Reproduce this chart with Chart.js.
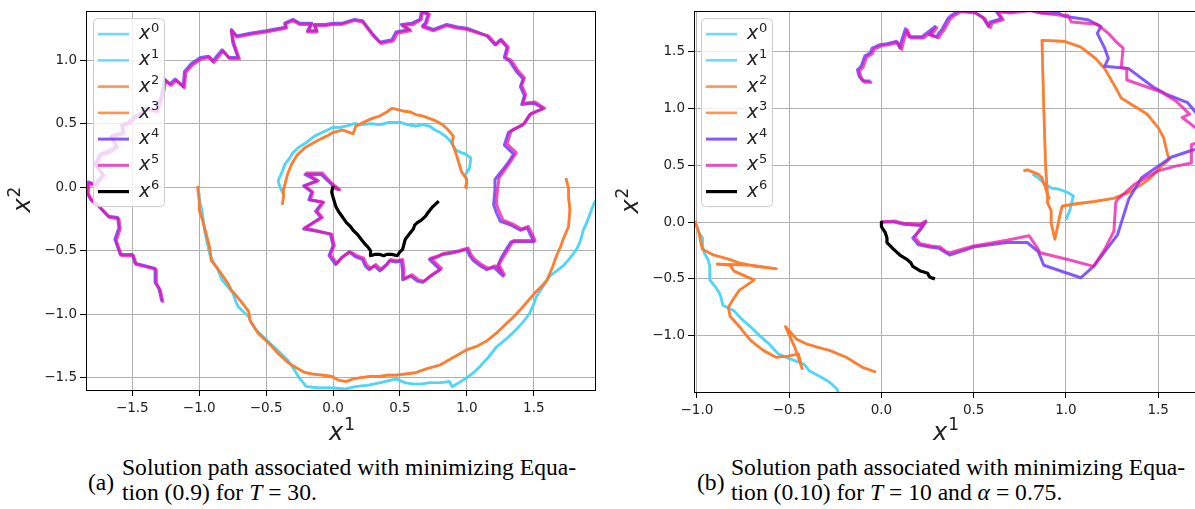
<!DOCTYPE html>
<html>
<head>
<meta charset="utf-8">
<script src="https://cdn.jsdelivr.net/npm/chart.js@4.4.1/dist/chart.umd.min.js"></script>
<style>
html, body { margin: 0; padding: 0; background: #fff; overflow: hidden; width: 1195px; height: 509px; }
canvas { position: absolute; top: 0; }
#left { left: 0; }
#right { left: 600px; }
.cap { position: absolute; font-family: "Liberation Serif", "Times New Roman", serif; font-size: 23.6px; line-height: 25px; color: #000; white-space: nowrap; }
</style>
</head>
<body>
<canvas id="left" width="600" height="445"></canvas>
<canvas id="right" width="600" height="445"></canvas>
<div class="cap" style="left:88px;top:470px">(a)</div>
<div class="cap" style="left:122px;top:455px">Solution path associated with minimizing Equa-<br>tion (0.9) for <i>T</i> = 30.</div>
<div class="cap" style="left:697px;top:470px">(b)</div>
<div class="cap" style="left:731px;top:455px">Solution path associated with minimizing Equa-<br>tion (0.10) for <i>T</i> = 10 and <i>α</i> = 0.75.</div>
<script>
// tick values
const leftTicksX = [-1.5, -1.0, -0.5, 0.0, 0.5, 1.0, 1.5];
const leftTicksY = [-1.5, -1.0, -0.5, 0.0, 0.5, 1.0];
const rightTicksX = [-1.0, -0.5, 0.0, 0.5, 1.0, 1.5];
const rightTicksY = [-1.0, -0.5, 0.0, 0.5, 1.0, 1.5];

// legend: x^k
const seriesSup = ['0', '1', '2', '3', '4', '5', '6'];
const seriesColors = ['rgba(70,212,250,0.8)', 'rgba(70,212,250,0.8)', 'rgba(255,120,40,0.8)', 'rgba(255,120,40,0.8)',
  'rgba(110,60,250,0.85)', 'rgba(235,20,170,0.75)', '#000000'];
const seriesWidths = [2.6, 2.6, 2.6, 2.6, 3, 3, 3.2];

// ---- panel (a) ----
const leftCyan = [[-0.37,-0.06],[-0.40,0.01],[-0.41,0.05],[-0.38,0.12],[-0.36,0.18],[-0.33,0.22],[-0.30,0.27],[-0.26,0.31],
  [-0.20,0.35],[-0.14,0.40],[-0.08,0.43],[0.00,0.47],[0.05,0.47],[0.10,0.48],[0.16,0.50],[0.22,0.49],[0.28,0.50],[0.35,0.49],
  [0.42,0.51],[0.50,0.51],[0.56,0.49],[0.62,0.48],[0.67,0.49],[0.72,0.48],[0.76,0.45],[0.80,0.43],[0.84,0.40],[0.87,0.37],
  [0.90,0.32],[0.92,0.29],[0.96,0.27],[0.99,0.26],[1.03,0.23],[1.02,0.15],[0.99,0.10],[1.00,0.04],[1.00,-0.01],
  null,
  [-1.00,-0.05],[-1.00,-0.10],[-0.98,-0.18],[-0.97,-0.26],[-0.96,-0.34],[-0.94,-0.44],[-0.92,-0.53],[-0.89,-0.60],[-0.86,-0.65],
  [-0.83,-0.73],[-0.79,-0.78],[-0.75,-0.83],[-0.73,-0.89],[-0.71,-0.94],[-0.67,-0.98],[-0.63,-1.02],[-0.61,-1.07],[-0.58,-1.12],
  [-0.54,-1.16],[-0.50,-1.20],[-0.46,-1.24],[-0.42,-1.28],[-0.38,-1.32],[-0.34,-1.36],[-0.30,-1.42],[-0.26,-1.49],[-0.23,-1.53],
  [-0.20,-1.57],[-0.11,-1.58],[0.00,-1.58],[0.09,-1.59],[0.17,-1.57],[0.26,-1.56],[0.35,-1.54],[0.47,-1.51],[0.54,-1.54],
  [0.60,-1.55],[0.66,-1.55],[0.72,-1.54],[0.80,-1.54],[0.87,-1.53],[0.89,-1.57],[0.94,-1.54],[1.00,-1.50],[1.05,-1.46],
  [1.10,-1.41],[1.16,-1.34],[1.22,-1.26],[1.30,-1.19],[1.37,-1.12],[1.43,-1.05],[1.47,-0.99],[1.50,-0.92],[1.52,-0.86],
  [1.57,-0.78],[1.62,-0.70],[1.67,-0.66],[1.72,-0.62],[1.77,-0.56],[1.82,-0.49],[1.85,-0.42],[1.87,-0.34],[1.90,-0.27],
  [1.92,-0.21],[1.95,-0.13],[1.97,-0.09]];

const leftOrange = [[-0.38,-0.14],[-0.37,-0.08],[-0.37,-0.02],[-0.36,0.02],[-0.34,0.10],[-0.31,0.18],[-0.27,0.25],[-0.21,0.31],
  [-0.16,0.34],[-0.11,0.37],[-0.05,0.40],[0.00,0.43],[0.07,0.45],[0.15,0.42],[0.17,0.48],[0.23,0.51],[0.29,0.54],[0.35,0.56],
  [0.40,0.59],[0.44,0.62],[0.52,0.60],[0.58,0.59],[0.62,0.57],[0.67,0.56],[0.72,0.54],[0.77,0.52],[0.82,0.49],[0.86,0.45],
  [0.90,0.40],[0.89,0.35],[0.92,0.26],[0.94,0.19],[0.96,0.12],[1.00,0.06],[0.99,-0.01],
  null,
  [-1.01,0.00],[-1.01,-0.02],[-1.00,-0.10],[-1.00,-0.18],[-0.97,-0.28],[-0.95,-0.36],[-0.93,-0.44],[-0.92,-0.49],[-0.91,-0.58],
  [-0.87,-0.63],[-0.83,-0.69],[-0.79,-0.75],[-0.76,-0.81],[-0.72,-0.86],[-0.68,-0.91],[-0.63,-0.98],[-0.62,-1.05],[-0.59,-1.10],
  [-0.56,-1.15],[-0.51,-1.20],[-0.46,-1.25],[-0.41,-1.31],[-0.36,-1.36],[-0.31,-1.40],[-0.26,-1.43],[-0.21,-1.46],[-0.16,-1.47],
  [-0.08,-1.48],[-0.01,-1.49],[0.04,-1.52],[0.10,-1.53],[0.15,-1.51],[0.20,-1.50],[0.28,-1.49],[0.35,-1.49],[0.41,-1.48],
  [0.47,-1.48],[0.55,-1.47],[0.62,-1.46],[0.70,-1.43],[0.80,-1.40],[0.90,-1.34],[1.00,-1.28],[1.08,-1.25],[1.15,-1.21],
  [1.22,-1.15],[1.30,-1.07],[1.36,-1.01],[1.42,-0.94],[1.47,-0.88],[1.51,-0.83],[1.56,-0.78],[1.60,-0.73],[1.64,-0.63],
  [1.67,-0.54],[1.70,-0.47],[1.72,-0.41],[1.76,-0.31],[1.77,-0.18],[1.76,-0.08],[1.76,-0.01],[1.74,0.07]];

const leftPurple = [[0.00,0.00],[0.04,-0.02],[-0.02,0.03],[-0.09,0.10],[-0.21,0.10],[-0.12,0.05],[-0.22,0.01],[-0.16,-0.04],
  [-0.18,-0.10],[-0.08,-0.12],[-0.13,-0.19],[-0.09,-0.24],[-0.22,-0.33],[-0.11,-0.35],[-0.02,-0.37],[0.00,-0.46],[-0.03,-0.54],
  [0.02,-0.61],[0.06,-0.56],[0.12,-0.51],[0.17,-0.55],[0.22,-0.57],[0.24,-0.62],[0.27,-0.65],[0.31,-0.62],[0.35,-0.66],
  [0.40,-0.61],[0.42,-0.58],[0.47,-0.59],[0.51,-0.58],[0.52,-0.66],[0.52,-0.73],[0.58,-0.70],[0.63,-0.74],[0.67,-0.75],
  [0.73,-0.70],[0.80,-0.65],[0.76,-0.61],[0.72,-0.57],[0.78,-0.55],[0.82,-0.53],[0.88,-0.52],[0.93,-0.51],[1.00,-0.49],
  [1.02,-0.54],[1.05,-0.58],[1.10,-0.62],[1.15,-0.65],[1.20,-0.63],[1.27,-0.70],[1.23,-0.62],[1.26,-0.55],[1.30,-0.48],
  [1.33,-0.43],[1.50,-0.43],[1.45,-0.32],[1.40,-0.34],[1.33,-0.30],[1.25,-0.27],[1.22,-0.20],[1.20,-0.14],[1.21,-0.02],
  [1.21,0.06],[1.30,0.18],[1.35,0.26],[1.28,0.33],[1.31,0.43],[1.36,0.46],[1.42,0.49],[1.47,0.57],[1.57,0.62],[1.50,0.66],
  [1.41,0.65],[1.43,0.72],[1.40,0.79],[1.42,0.85],[1.37,0.91],[1.32,0.99],[1.28,1.02],[1.30,1.10],[1.25,1.16],[1.21,1.12],
  [1.15,1.19],[1.08,1.22],[1.00,1.25],[0.93,1.26],[0.85,1.28],[0.75,1.24],[0.67,1.27],[0.69,1.29],[0.71,1.36],[0.66,1.38],
  [0.65,1.32],[0.59,1.29],[0.51,1.28],[0.57,1.24],[0.47,1.22],[0.44,1.16],[0.35,1.14],[0.30,1.20],[0.22,1.31],[0.16,1.32],
  [0.07,1.29],[0.00,1.29],[-0.06,1.28],[-0.14,1.28],[-0.12,1.23],[-0.19,1.23],[-0.16,1.29],[-0.25,1.29],[-0.30,1.32],
  [-0.36,1.29],[-0.35,1.26],[-0.50,1.23],[-0.62,1.21],[-0.72,1.19],[-0.76,1.24],[-0.75,1.14],[-0.71,1.02],[-0.78,1.02],
  [-0.83,1.08],[-0.90,0.99],[-0.93,1.03],[-0.99,1.02],[-1.06,0.97],[-1.11,0.91],[-1.12,0.79],[-1.18,0.85],[-1.22,0.81],
  [-1.26,0.85],[-1.28,0.73],[-1.32,0.60],[-1.40,0.62],[-1.45,0.57],[-1.48,0.56],[-1.53,0.51],[-1.58,0.49],[-1.57,0.43],
  [-1.66,0.40],[-1.62,0.32],[-1.68,0.28],[-1.74,0.26],[-1.78,0.18],[-1.72,0.10],[-1.78,0.02],[-1.83,0.04],[-1.84,-0.04],
  [-1.81,-0.10],[-1.76,-0.14],[-1.68,-0.23],[-1.61,-0.24],[-1.60,-0.32],[-1.63,-0.41],[-1.59,-0.53],[-1.50,-0.53],
  [-1.48,-0.60],[-1.40,-0.62],[-1.33,-0.64],[-1.33,-0.75],[-1.30,-0.80],[-1.28,-0.90]];

const leftPink = [[0.00,0.00],[0.05,-0.02],[-0.01,0.03],[-0.08,0.11],[-0.20,0.11],[-0.11,0.05],[-0.21,0.01],[-0.15,-0.04],
  [-0.17,-0.10],[-0.07,-0.12],[-0.12,-0.19],[-0.08,-0.24],[-0.21,-0.32],[-0.10,-0.35],[-0.01,-0.37],[0.01,-0.46],[-0.02,-0.53],
  [0.03,-0.60],[0.07,-0.55],[0.13,-0.51],[0.18,-0.54],[0.23,-0.56],[0.25,-0.61],[0.28,-0.64],[0.32,-0.61],[0.36,-0.65],
  [0.41,-0.60],[0.43,-0.57],[0.48,-0.58],[0.52,-0.57],[0.53,-0.65],[0.53,-0.72],[0.59,-0.69],[0.64,-0.73],[0.68,-0.74],
  [0.74,-0.69],[0.81,-0.64],[0.77,-0.60],[0.73,-0.56],[0.79,-0.54],[0.83,-0.52],[0.89,-0.51],[0.94,-0.50],[1.01,-0.48],
  [1.03,-0.53],[1.06,-0.57],[1.11,-0.61],[1.16,-0.64],[1.21,-0.62],[1.28,-0.69],[1.24,-0.61],[1.28,-0.54],[1.32,-0.47],
  [1.35,-0.42],[1.51,-0.42],[1.46,-0.31],[1.41,-0.33],[1.34,-0.29],[1.27,-0.26],[1.24,-0.19],[1.22,-0.13],[1.23,-0.01],
  [1.24,0.07],[1.32,0.19],[1.37,0.27],[1.30,0.34],[1.33,0.44],[1.38,0.47],[1.43,0.50],[1.48,0.58],[1.58,0.62],[1.51,0.67],
  [1.42,0.66],[1.44,0.73],[1.41,0.80],[1.43,0.86],[1.38,0.92],[1.33,1.00],[1.29,1.02],[1.31,1.10],[1.26,1.16],[1.22,1.12],
  [1.16,1.19],[1.09,1.21],[1.00,1.24],[0.93,1.25],[0.85,1.27],[0.75,1.23],[0.67,1.26],[0.70,1.29],[0.72,1.36],[0.67,1.38],
  [0.66,1.32],[0.60,1.28],[0.52,1.27],[0.58,1.23],[0.48,1.21],[0.45,1.15],[0.36,1.13],[0.30,1.19],[0.22,1.30],[0.16,1.31],
  [0.07,1.28],[0.00,1.28],[-0.06,1.27],[-0.14,1.27],[-0.12,1.22],[-0.19,1.22],[-0.16,1.28],[-0.25,1.28],[-0.30,1.31],
  [-0.36,1.28],[-0.35,1.25],[-0.50,1.22],[-0.62,1.20],[-0.72,1.18],[-0.76,1.23],[-0.74,1.13],[-0.70,1.01],[-0.77,1.01],
  [-0.82,1.07],[-0.89,0.98],[-0.92,1.02],[-0.98,1.01],[-1.05,0.96],[-1.10,0.90],[-1.11,0.78],[-1.17,0.84],[-1.21,0.80],
  [-1.25,0.84],[-1.27,0.72],[-1.31,0.59],[-1.39,0.61],[-1.44,0.56],[-1.47,0.55],[-1.52,0.50],[-1.57,0.48],[-1.56,0.42],
  [-1.65,0.39],[-1.61,0.31],[-1.67,0.27],[-1.73,0.25],[-1.77,0.17],[-1.71,0.09],[-1.77,0.01],[-1.82,0.03],[-1.83,-0.05],
  [-1.80,-0.11],[-1.75,-0.15],[-1.67,-0.24],[-1.60,-0.25],[-1.59,-0.33],[-1.62,-0.42],[-1.58,-0.54],[-1.49,-0.54],
  [-1.47,-0.61],[-1.39,-0.63],[-1.32,-0.65],[-1.32,-0.76],[-1.29,-0.81],[-1.27,-0.91]];

const leftBlack = [[0.00,0.01],[-0.01,-0.04],[0.00,-0.08],[0.02,-0.15],[0.04,-0.19],[0.06,-0.22],[0.08,-0.25],[0.10,-0.28],
  [0.13,-0.31],[0.15,-0.34],[0.18,-0.37],[0.21,-0.41],[0.24,-0.45],[0.26,-0.47],[0.28,-0.50],[0.28,-0.54],[0.31,-0.53],
  [0.35,-0.53],[0.38,-0.54],[0.40,-0.53],[0.44,-0.53],[0.48,-0.54],[0.50,-0.51],[0.52,-0.49],[0.53,-0.45],[0.54,-0.41],
  [0.57,-0.37],[0.60,-0.33],[0.61,-0.30],[0.63,-0.28],[0.66,-0.26],[0.69,-0.23],[0.71,-0.20],[0.74,-0.16],[0.76,-0.14],
  [0.79,-0.11]];

// ---- panel (b) ----
const rightCyan = [[0.82,0.42],[0.84,0.40],[0.87,0.36],[0.90,0.32],[0.92,0.30],[0.96,0.29],[1.01,0.26],[1.04,0.23],[1.03,0.16],
  [1.02,0.10],[1.00,0.02],
  null,
  [-1.01,-0.01],[-0.99,-0.09],[-0.97,-0.14],[-0.97,-0.21],[-0.96,-0.27],[-0.94,-0.33],[-0.93,-0.39],[-0.93,-0.45],[-0.93,-0.51],
  [-0.90,-0.57],[-0.88,-0.62],[-0.87,-0.66],[-0.86,-0.73],[-0.80,-0.78],[-0.76,-0.85],[-0.71,-0.92],[-0.66,-1.00],[-0.61,-1.07],
  [-0.56,-1.16],[-0.50,-1.20],[-0.42,-1.25],[-0.39,-1.31],[-0.32,-1.37],[-0.28,-1.41],[-0.24,-1.47],[-0.23,-1.52]];

const rightOrange = [[0.77,0.45],[0.79,0.46],[0.82,0.44],[0.85,0.42],[0.87,0.39],[0.88,0.34],[0.89,0.30],[0.90,0.24],[0.90,0.17],
  [0.92,0.10],[0.92,-0.01],[0.94,-0.15],[0.96,0.00],[0.97,0.08],[0.98,0.14],[1.05,0.16],[1.15,0.18],[1.26,0.21],[1.34,0.26],
  [1.40,0.32],[1.46,0.39],[1.51,0.48],[1.56,0.55],[1.55,0.60],[1.53,0.74],[1.50,0.83],[1.44,0.95],[1.37,1.02],[1.30,1.09],
  [1.28,1.15],[1.26,1.21],[1.21,1.35],[1.16,1.44],[1.08,1.54],[0.99,1.59],[0.87,1.60],[0.88,1.00],[0.89,0.48],[0.90,0.25],
  [0.91,0.20],
  null,
  [-1.01,0.01],[-0.99,-0.09],[-0.98,-0.17],[-0.97,-0.24],[-0.91,-0.29],[-0.84,-0.32],[-0.77,-0.36],[-0.68,-0.39],[-0.57,-0.41],
  [-0.70,-0.38],[-0.89,-0.37],[-0.82,-0.38],[-0.80,-0.43],[-0.69,-0.51],[-0.77,-0.60],[-0.80,-0.67],[-0.83,-0.75],[-0.82,-0.83],
  [-0.77,-0.92],[-0.74,-0.98],[-0.71,-1.04],[-0.64,-1.13],[-0.57,-1.19],[-0.51,-1.18],[-0.45,-1.16],[-0.43,-1.29],[-0.47,-1.10],
  [-0.52,-0.92],[-0.46,-1.03],[-0.41,-1.07],[-0.35,-1.10],[-0.28,-1.13],[-0.19,-1.19],[-0.10,-1.28],[-0.03,-1.32]];

const rightPurple = [[0.00,0.00],[0.07,0.00],[0.12,-0.02],[0.21,-0.03],[0.24,0.00],[0.21,-0.07],[0.17,-0.14],[0.20,-0.20],
  [0.26,-0.22],[0.31,-0.23],[0.35,-0.27],[0.37,-0.29],[0.50,-0.22],[0.68,-0.18],[0.79,-0.18],[0.85,-0.26],[0.88,-0.38],
  [1.08,-0.49],[1.15,-0.39],[1.28,-0.11],[1.34,0.20],[1.41,0.39],[1.57,0.57],[1.68,0.63],[1.75,0.66],[1.78,0.80],[1.71,0.95],
  [1.66,1.05],[1.55,1.12],[1.48,1.18],[1.34,1.35],[1.21,1.37],[1.23,1.44],[1.21,1.53],[1.17,1.66],[1.19,1.72],[1.12,1.78],
  [0.99,1.81],[0.96,1.84],[0.86,1.84],[0.80,1.87],[0.70,1.85],[0.62,1.86],[0.65,1.79],[0.59,1.76],[0.58,1.72],[0.55,1.80],
  [0.50,1.85],[0.42,1.86],[0.38,1.82],[0.36,1.79],[0.33,1.70],[0.31,1.66],[0.30,1.63],[0.26,1.65],[0.29,1.72],[0.22,1.63],
  [0.15,1.63],[0.13,1.70],[0.11,1.60],[0.10,1.53],[0.08,1.59],[0.03,1.57],[-0.01,1.56],[-0.05,1.53],[-0.06,1.49],
  [-0.09,1.46],[-0.11,1.37],[-0.13,1.34],[-0.12,1.28],[-0.10,1.24],[-0.06,1.24]];

const rightPink = [[0.00,0.00],[0.07,0.01],[0.12,-0.01],[0.21,-0.02],[0.24,0.01],[0.21,-0.06],[0.18,-0.13],[0.21,-0.19],
  [0.27,-0.21],[0.32,-0.22],[0.35,-0.26],[0.37,-0.27],[0.50,-0.21],[0.68,-0.16],[0.80,-0.12],[0.85,-0.24],[0.86,-0.27],
  [1.01,-0.33],[1.15,-0.39],[1.21,-0.24],[1.26,-0.08],[1.27,0.17],[1.28,0.20],[1.37,0.33],[1.50,0.45],[1.59,0.49],[1.68,0.52],
  [1.68,0.68],[1.75,0.72],[1.76,0.80],[1.71,0.82],[1.63,0.92],[1.67,0.95],[1.60,1.06],[1.52,1.14],[1.49,1.16],[1.33,1.25],
  [1.33,1.35],[1.30,1.36],[1.31,1.53],[1.27,1.59],[1.23,1.66],[1.17,1.74],[1.03,1.76],[1.01,1.82],[0.97,1.82],[0.87,1.84],
  [0.80,1.86],[0.70,1.84],[0.63,1.85],[0.66,1.78],[0.60,1.75],[0.59,1.71],[0.56,1.79],[0.51,1.84],[0.43,1.85],[0.39,1.81],
  [0.37,1.78],[0.34,1.69],[0.32,1.65],[0.31,1.62],[0.27,1.64],[0.30,1.71],[0.23,1.62],[0.16,1.62],[0.14,1.69],[0.12,1.59],
  [0.11,1.52],[0.09,1.58],[0.04,1.56],[0.00,1.55],[-0.04,1.52],[-0.05,1.48],[-0.08,1.45],[-0.10,1.36],[-0.12,1.33],
  [-0.11,1.27],[-0.09,1.23],[-0.05,1.23]];

const rightBlack = [[0.00,0.00],[0.00,-0.04],[0.02,-0.09],[0.03,-0.14],[0.03,-0.18],[0.06,-0.23],[0.08,-0.26],[0.10,-0.29],
  [0.12,-0.31],[0.14,-0.33],[0.16,-0.36],[0.17,-0.39],[0.19,-0.41],[0.21,-0.43],[0.23,-0.44],[0.25,-0.45],[0.26,-0.48],
  [0.27,-0.49],[0.29,-0.50]];

const leftSeries = [leftCyan, leftCyan, leftOrange, leftOrange, leftPurple, leftPink, leftBlack];
const rightSeries = [rightCyan, rightCyan, rightOrange, rightOrange, rightPurple, rightPink, rightBlack];

const toPoints = arr => arr.map(p => p ? { x: p[0], y: p[1] } : { x: null, y: null });
const fmt = v => v.toFixed(1).replace('-', '\u2212');

function drawMathX(ctx, x, y, sup, size) {
  ctx.font = 'italic ' + size + 'px "DejaVu Sans"';
  ctx.fillText('x', x, y);
  const w = ctx.measureText('x').width;
  ctx.font = Math.round(size * 0.7) + 'px "DejaVu Sans"';
  ctx.fillText(sup, x + w + size * 0.04, y - size * 0.4);
}

const framePlugin = {
  id: 'frame',
  afterDatasetsDraw(chart) {
    const ctx = chart.ctx;
    const a = chart.chartArea;
    ctx.save();
    // spines
    ctx.strokeStyle = '#000';
    ctx.lineWidth = 1;
    ctx.strokeRect(Math.round(a.left) + 0.5, Math.round(a.top) + 0.5, Math.round(a.right - a.left) - 1, Math.round(a.bottom - a.top));
    // legend
    const bx = a.left + 7, by = a.top + 7, bw = 71, bh = 188;
    ctx.fillStyle = 'rgba(255,255,255,0.8)';
    ctx.strokeStyle = '#cccccc';
    ctx.beginPath();
    ctx.roundRect(bx + 0.5, by + 0.5, bw, bh, 4);
    ctx.fill();
    ctx.stroke();
    ctx.textBaseline = 'alphabetic';
    ctx.textAlign = 'left';
    chart.data.datasets.forEach((d, i) => {
      const ly = by + 16 + i * 26.25;
      ctx.strokeStyle = d.borderColor;
      ctx.lineWidth = d.borderWidth;
      ctx.beginPath();
      ctx.moveTo(bx + 5, ly);
      ctx.lineTo(bx + 36, ly);
      ctx.stroke();
      ctx.fillStyle = '#222';
      drawMathX(ctx, bx + 46, ly + 5, seriesSup[i], 19);
    });
    // axis titles
    ctx.fillStyle = '#222';
    drawMathX(ctx, (a.left + a.right) / 2 - 12, 440, '1', 24);
    ctx.translate(a.left - 56, (a.top + a.bottom) / 2 + 12);
    ctx.rotate(-Math.PI / 2);
    drawMathX(ctx, 0, 0, '2', 24);
    ctx.restore();
  }
};

function makeChart(id, series, xr, yr, xt, yt, yWidth, xHeight, padRight) {
  return new Chart(document.getElementById(id), {
    type: 'scatter',
    data: {
      datasets: series.map((s, i) => ({
        label: 'x' + seriesSup[i],
        data: toPoints(s),
        showLine: true,
        spanGaps: false,
        borderColor: seriesColors[i],
        borderWidth: seriesWidths[i],
        borderJoinStyle: 'round',
        pointRadius: 0,
        pointHoverRadius: 0,
        fill: false,
        order: 6 - i
      }))
    },
    options: {
      responsive: false,
      animation: false,
      devicePixelRatio: 1,
      layout: { padding: { top: 11, right: padRight, left: 0, bottom: 0 } },
      plugins: { legend: { display: false }, tooltip: { enabled: false } },
      scales: {
        x: {
          type: 'linear', min: xr[0], max: xr[1],
          afterBuildTicks: s => { s.ticks = xt.map(v => ({ value: v })); },
          afterFit: s => { s.height = xHeight; },
          grid: { color: '#b0b0b0', lineWidth: 1, tickLength: 6, tickColor: '#000' },
          border: { display: false },
          ticks: { padding: 4, maxRotation: 0, autoSkip: false, color: '#222', font: { family: 'DejaVu Sans', size: 13.5 }, callback: fmt }
        },
        y: {
          type: 'linear', min: yr[0], max: yr[1],
          afterBuildTicks: s => { s.ticks = yt.map(v => ({ value: v })); },
          afterFit: s => { s.width = yWidth; },
          grid: { color: '#b0b0b0', lineWidth: 1, tickLength: 6, tickColor: '#000' },
          border: { display: false },
          ticks: { padding: 3, color: '#222', font: { family: 'DejaVu Sans', size: 13.5 }, callback: fmt }
        }
      }
    },
    plugins: [framePlugin]
  });
}

makeChart('left', leftSeries, [-1.846, 1.965], [-1.597, 1.385], leftTicksX, leftTicksY, 86, 55, 4);
makeChart('right', rightSeries, [-1.016, 1.705], [-1.495, 1.856], rightTicksX, rightTicksY, 94, 53, 4);
</script>
</body>
</html>
